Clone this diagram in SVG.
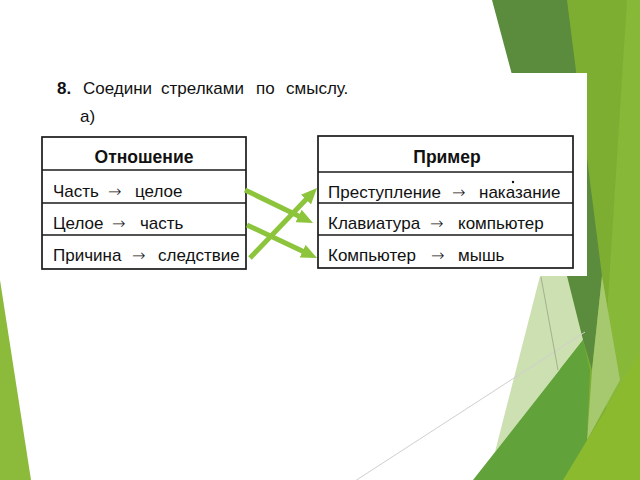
<svg xmlns="http://www.w3.org/2000/svg" width="640" height="480" viewBox="0 0 640 480">
<defs>
<style>
.t{font-family:"Liberation Sans",Arial,sans-serif;font-size:17px;fill:#111}
.h{font-family:"Liberation Sans",Arial,sans-serif;font-size:17.5px;font-weight:bold;fill:#111;text-anchor:middle}
.a{font-family:"DejaVu Sans",sans-serif;font-size:16px;font-weight:200}
.tb{fill:none;stroke:#1a1a1a;stroke-width:1.7}
.ar{stroke:#8cc43c;stroke-width:5;fill:none;marker-end:url(#ah)}
</style>
<marker id="ah" viewBox="0 0 16 14" refX="8" refY="7" markerWidth="16" markerHeight="14" markerUnits="userSpaceOnUse" orient="auto">
<path d="M0,0 L16,7 L0,14 z" fill="#8cc43c"/>
</marker>
</defs>
<rect width="640" height="480" fill="#ffffff"/>
<g id="background">
<polygon points="560,0 640,0 640,480 560,480" fill="#7eae31"/>
<polygon points="627,0 640,0 640,480 605,480 608,300" fill="#88b838"/>
<polygon points="492,0 567,0 602,276 592,370 583,340" fill="#5b8b3c"/>
<polygon points="540,276 567,276 583,340 495,452" fill="#cde0b1"/>
<polygon points="602,276 620,380 587,440 592,370" fill="#a6c86e"/>
<polygon points="473,480 583,340 590,370 587,440 567,480" fill="#62a23b"/>
<polygon points="563,480 640,353 640,480" fill="#8cba2f"/>
<line x1="355" y1="481" x2="585" y2="332" stroke="#cfcfcf" stroke-width="1"/>
<line x1="541" y1="277" x2="558" y2="370" stroke="#a3b08f" stroke-width="1"/>
<polygon points="0,280 31,480 0,480" fill="#8cba3a"/>
<rect x="20" y="73" width="567" height="203" fill="#ffffff"/>
</g>
<g id="title">
<text class="t" y="94"><tspan x="57" font-weight="bold">8.</tspan><tspan x="83">Соедини</tspan><tspan x="161">стрелками</tspan><tspan x="256">по</tspan><tspan x="286">смыслу.</tspan></text>
<text class="t" x="80" y="122">а)</text>
</g>
<g id="table-left">
<rect class="tb" x="42" y="137" width="204" height="132"/>
<line class="tb" x1="42" y1="170" x2="246" y2="170"/>
<line class="tb" x1="42" y1="203" x2="246" y2="203"/>
<line class="tb" x1="42" y1="235" x2="246" y2="235"/>
<text class="h" x="144" y="163">Отношение</text>
<text class="t" y="197"><tspan x="53">Часть</tspan><tspan class="a" x="108">→</tspan><tspan x="135">целое</tspan></text>
<text class="t" y="229"><tspan x="53">Целое</tspan><tspan class="a" x="112">→</tspan><tspan x="140">часть</tspan></text>
<text class="t" y="261"><tspan x="53">Причина</tspan><tspan class="a" x="132">→</tspan><tspan x="158">следствие</tspan></text>
</g>
<g id="table-right">
<rect class="tb" x="318" y="136" width="255" height="132"/>
<line class="tb" x1="318" y1="172" x2="573" y2="172"/>
<line class="tb" x1="318" y1="203" x2="573" y2="203"/>
<line class="tb" x1="318" y1="235" x2="573" y2="235"/>
<text class="h" x="447" y="163">Пример</text>
<circle cx="513" cy="182" r="1.2" fill="#111"/>
<text class="t" y="198"><tspan x="328">Преступление</tspan><tspan class="a" x="452">→</tspan><tspan x="479">наказание</tspan></text>
<text class="t" y="229"><tspan x="328">Клавиатура</tspan><tspan class="a" x="430">→</tspan><tspan x="458">компьютер</tspan></text>
<text class="t" y="261"><tspan x="328">Компьютер</tspan><tspan class="a" x="431">→</tspan><tspan x="458">мышь</tspan></text>
</g>
<g id="connectors">
<line class="ar" x1="245" y1="190" x2="305.8" y2="219.5"/>
<line class="ar" x1="247" y1="225" x2="309.8" y2="254.6"/>
<line class="ar" x1="250" y1="258" x2="311.5" y2="193.8"/>
</g>
</svg>
